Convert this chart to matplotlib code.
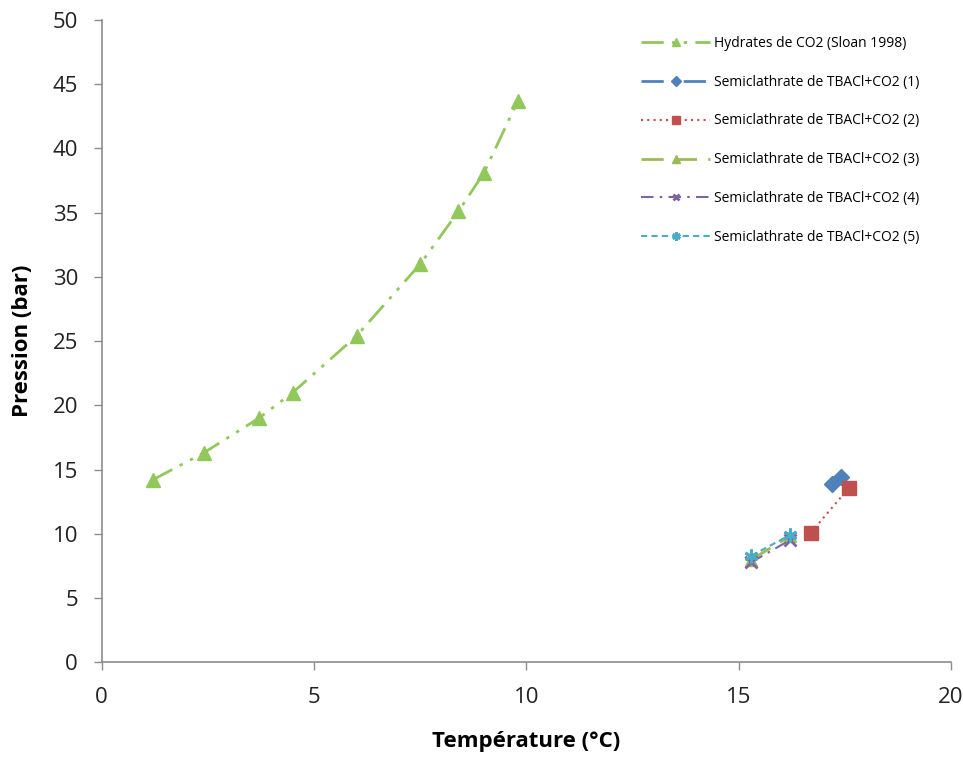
import matplotlib
matplotlib.use("Agg")
import matplotlib.pyplot as plt

plt.rcParams['font.family'] = ['Open Sans', 'DejaVu Sans']

# Data
hyd_T = [1.2, 2.4, 3.7, 4.5, 6.0, 7.5, 8.4, 9.0, 9.8]
hyd_P = [14.2, 16.3, 19.0, 21.0, 25.4, 31.0, 35.1, 38.1, 43.7]

s1_T = [17.2, 17.4]
s1_P = [13.9, 14.4]
s2_T = [16.7, 17.6]
s2_P = [10.1, 13.6]
s3_T = [15.3, 16.2]
s3_P = [8.0, 9.8]
s4_T = [15.3, 16.2]
s4_P = [7.8, 9.5]
s5_T = [15.3, 16.2]
s5_P = [8.3, 9.9]

labels = ["Hydrates de CO2 (Sloan 1998)",
          "Semiclathrate de TBACl+CO2 (1)",
          "Semiclathrate de TBACl+CO2 (2)",
          "Semiclathrate de TBACl+CO2 (3)",
          "Semiclathrate de TBACl+CO2 (4)",
          "Semiclathrate de TBACl+CO2 (5)"]

fig = plt.figure(figsize=(9.63, 7.57), dpi=100)
ax = fig.add_axes([0.1056, 0.1251, 0.882, 0.8485])

ax.plot(hyd_T, hyd_P, color='#92C85A', linestyle=(0, (8, 3, 1.2, 3, 1.2, 3)), lw=2,
        marker='^', markersize=10, label=labels[0])
ax.plot(s1_T, s1_P, color='#4F81BD', linestyle=(0, (8, 3, 1.2, 3)), lw=2,
        marker='D', markersize=8, label=labels[1])
ax.plot(s2_T, s2_P, color='#C0504D', linestyle=(0, (1, 2)), lw=1.5,
        marker='s', markersize=10, markeredgecolor='#C0504D', label=labels[2])
ax.plot(s3_T, s3_P, color='#9BBB59', linestyle=(0, (8, 4)), lw=2,
        marker='^', markersize=9, label=labels[3])
ax.plot(s4_T, s4_P, color='#8064A2', linestyle=(0, (6, 3, 1.2, 3)), lw=1.5,
        marker='x', markersize=8, markeredgewidth=2, label=labels[4])
ax.plot(s5_T, s5_P, color='#4BACC6', linestyle=(0, (3, 2)), lw=1.5,
        marker=(6, 2, 0), markersize=10, markeredgewidth=2, label=labels[5])

ax.set_xlim(0, 20)
ax.set_ylim(0, 50)
ax.set_xticks([0, 5, 10, 15, 20])
ax.set_yticks(range(0, 51, 5))

for s in ['top', 'right']:
    ax.spines[s].set_visible(False)
for s in ['left', 'bottom']:
    ax.spines[s].set_color('#8C8C8C')
    ax.spines[s].set_linewidth(1.2)
ax.tick_params(axis='both', colors='#8C8C8C', direction='out', length=6, width=1,
               labelsize=16, labelcolor='#222222', pad=11)
ax.tick_params(axis='x', pad=12)

ax.set_xlabel("Température (°C)", fontsize=16, fontweight='bold', labelpad=16)
ax.set_ylabel("Pression (bar)", fontsize=16, fontweight='bold', labelpad=14)

leg = ax.legend(loc='upper left', bbox_to_anchor=(0.62, 0.995), frameon=False,
                fontsize=10, labelspacing=1.72, handlelength=5.0, handletextpad=0.3,
                markerscale=0.6)

fig.savefig("out.png", dpi=100)
